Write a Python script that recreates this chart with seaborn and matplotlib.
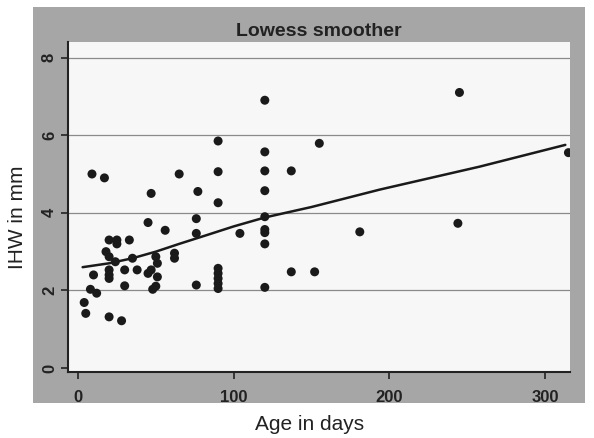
import matplotlib.pyplot as plt
import pandas as pd
import seaborn as sns

# values
age_days = [
    9, 17, 65, 47, 77, 45, 56, 76, 76, 20, 25, 25, 33, 18, 20, 24, 35, 50, 51, 62,
    62, 10, 20, 20, 20, 30, 38, 45, 47, 51, 30, 50, 48, 76, 8, 12, 4, 5, 20, 28,
    90, 90, 90, 90, 90, 90, 90, 90,
    120, 120, 120, 120, 120, 120, 120, 120, 120,
    104, 137, 155, 137, 152, 181, 245, 244, 315,
]
ihw_mm = [
    5.0, 4.9, 5.0, 4.5, 4.55, 3.75, 3.55, 3.85, 3.47, 3.3, 3.3, 3.2, 3.3, 3.0, 2.87, 2.74, 2.83, 2.87, 2.7, 2.96,
    2.83, 2.4, 2.53, 2.4, 2.31, 2.53, 2.53, 2.44, 2.53, 2.35, 2.12, 2.11, 2.03, 2.14, 2.03, 1.93, 1.69, 1.41, 1.32, 1.22,
    5.85, 5.06, 4.26, 2.57, 2.44, 2.31, 2.18, 2.05,
    6.9, 5.57, 5.08, 4.57, 3.9, 3.57, 3.49, 3.2, 2.08,
    3.47, 5.08, 5.79, 2.48, 2.48, 3.51, 7.1, 3.73, 5.55,
]

# lowess curve
lowess_x = [3, 20, 35, 50, 65, 83, 100, 120, 150, 194, 258, 313]
lowess_y = [2.6, 2.7, 2.83, 3.0, 3.2, 3.43, 3.65, 3.88, 4.15, 4.6, 5.19, 5.75]

grid_levels = [2, 4, 6, 8]
x_ticks = [0, 100, 200, 300]
y_ticks = [0, 2, 4, 6, 8]


def main() -> None:
    sns.set_theme(style="white")
    plt.rcParams["font.family"] = ["Liberation Sans", "DejaVu Sans"]

    points = pd.DataFrame({"age": age_days, "ihw": ihw_mm})
    curve = pd.DataFrame({"age": lowess_x, "ihw": lowess_y})

    fig = plt.figure(figsize=(5.94, 4.38), dpi=100)
    fig.patch.set_facecolor("white")

    # grey scanned frame behind the plot region
    frame = fig.add_axes([33 / 594, 1 - 403 / 438, 552 / 594, 396 / 438])
    frame.set_facecolor("#a6a6a6")
    frame.set_xticks([])
    frame.set_yticks([])
    for spine in frame.spines.values():
        spine.set_visible(False)
    frame.set_zorder(0)

    ax = fig.add_axes([68 / 594, 1 - 372 / 438, 502 / 594, 330 / 438])
    ax.set_zorder(1)
    ax.set_facecolor("#f7f7f7")

    for level in grid_levels:
        ax.axhline(level, color="#8a8a8a", lw=0.9, zorder=1)

    sns.scatterplot(data=points, x="age", y="ihw", color="#1a1a1a", s=42,
                    edgecolor="none", ax=ax, zorder=3)
    sns.lineplot(data=curve, x="age", y="ihw", color="#1a1a1a", lw=1.8,
                 sort=False, estimator=None, ax=ax, zorder=2)

    ax.set_xlim(-6.4, 316)
    ax.set_ylim(-0.1, 8.4)
    ax.set_xticks(x_ticks)
    ax.set_yticks(y_ticks)
    ax.set_xticklabels([str(t) for t in x_ticks], fontsize=12, fontweight="bold", color="#222222")
    ax.set_yticklabels([str(t) for t in y_ticks], fontsize=12, fontweight="bold", color="#222222",
                       rotation=90, va="center")
    ax.tick_params(axis="both", direction="out", length=5, width=1.2, color="#222222",
                   bottom=True, left=True, pad=3)
    ax.tick_params(axis="x", pad=8)

    for side in ("top", "right"):
        ax.spines[side].set_visible(False)
    for side in ("left", "bottom"):
        ax.spines[side].set_color("#222222")
        ax.spines[side].set_linewidth(1.5)

    ax.set_xlabel("")
    ax.set_ylabel("")
    ax.set_title("Lowess smoother", fontsize=14, fontweight="bold", color="#222222", pad=4)

    fig.text(310 / 594, 1 - 425 / 438, "Age in days", fontsize=15, ha="center", va="center",
             color="#222222")
    fig.text(18 / 594, 1 - 217 / 438, "IHW in mm", fontsize=15, ha="center", va="center",
             rotation=90, color="#222222")

    fig.savefig("out.png", dpi=100)
    plt.close(fig)


if __name__ == "__main__":
    main()
